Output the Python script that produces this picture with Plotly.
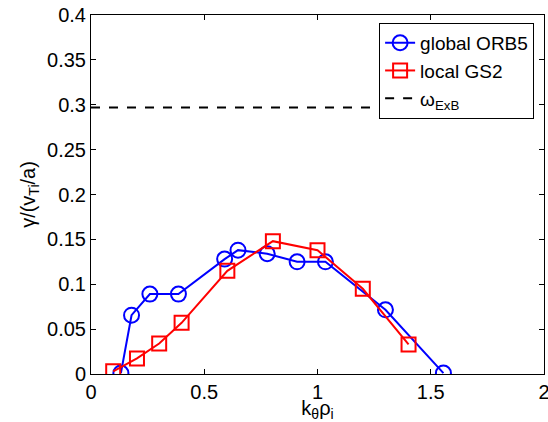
import plotly.graph_objects as go

orb5_k = [0.132, 0.179, 0.26, 0.386, 0.59, 0.649, 0.778, 0.91, 1.035, 1.30, 1.556]
orb5_g = [0.001, 0.0655, 0.089, 0.089, 0.128, 0.138, 0.134, 0.125, 0.125, 0.0715, 0.001]
gs2_k = [0.098, 0.203, 0.301, 0.40, 0.602, 0.803, 1.0, 1.2, 1.402]
gs2_g = [0.003, 0.0174, 0.034, 0.057, 0.115, 0.148, 0.138, 0.095, 0.033]
exb_k = [0, 1.9]
exb_g = [0.297, 0.297]

FONT = "Liberation Sans, Arial, Helvetica, sans-serif"
FS = 20

fig = go.Figure()
fig.add_trace(go.Scatter(x=orb5_k, y=orb5_g, mode="lines+markers", name="global ORB5",
                         line=dict(color="#0000ff", width=2),
                         marker=dict(symbol="circle-open", size=15, color="#0000ff", line=dict(width=2))))
fig.add_trace(go.Scatter(x=gs2_k, y=gs2_g, mode="lines+markers", name="local GS2",
                         line=dict(color="#ff0000", width=2),
                         marker=dict(symbol="square-open", size=14, color="#ff0000", line=dict(width=2))))
fig.add_trace(go.Scatter(x=exb_k, y=exb_g, mode="lines", name="ω<sub>ExB</sub>",
                         line=dict(color="black", width=2, dash="dash")))

axis_common = dict(showline=True, linecolor="black", linewidth=1, mirror="ticks",
                   ticks="inside", ticklen=5, tickcolor="black", showgrid=False, zeroline=False,
                   ticklabeloverflow="allow", automargin=False,
                   tickfont=dict(family=FONT, size=FS, color="black"))

fig.update_layout(
    width=548, height=422,
    margin=dict(l=91, r=4, t=15, b=48),
    paper_bgcolor="white", plot_bgcolor="white",
    font=dict(family=FONT, size=FS, color="black"),
    xaxis=dict(range=[0, 2], tickvals=[0, 0.5, 1, 1.5, 2], ticktext=["0", "0.5", "1", "1.5", "2"],
               title=dict(text="k<sub>θ</sub>ρ<sub>i</sub>", standoff=5,
                          font=dict(family=FONT, size=FS)), **axis_common),
    yaxis=dict(range=[0, 0.4], tickvals=[0, 0.05, 0.1, 0.15, 0.2, 0.25, 0.3, 0.35, 0.4],
               ticktext=["0", "0.05", "0.1", "0.15", "0.2", "0.25", "0.3", "0.35", "0.4"],
               title=dict(text="γ/(v<sub>Ti</sub>/a)", standoff=6,
                          font=dict(family=FONT, size=FS)), **axis_common),
    legend=dict(x=0.636, y=0.978, xanchor="left", yanchor="top",
                bgcolor="white", bordercolor="black", borderwidth=1,
                font=dict(family=FONT, size=19), itemwidth=30, tracegroupgap=0),
    showlegend=True,
)

fig.write_html("out.html")
